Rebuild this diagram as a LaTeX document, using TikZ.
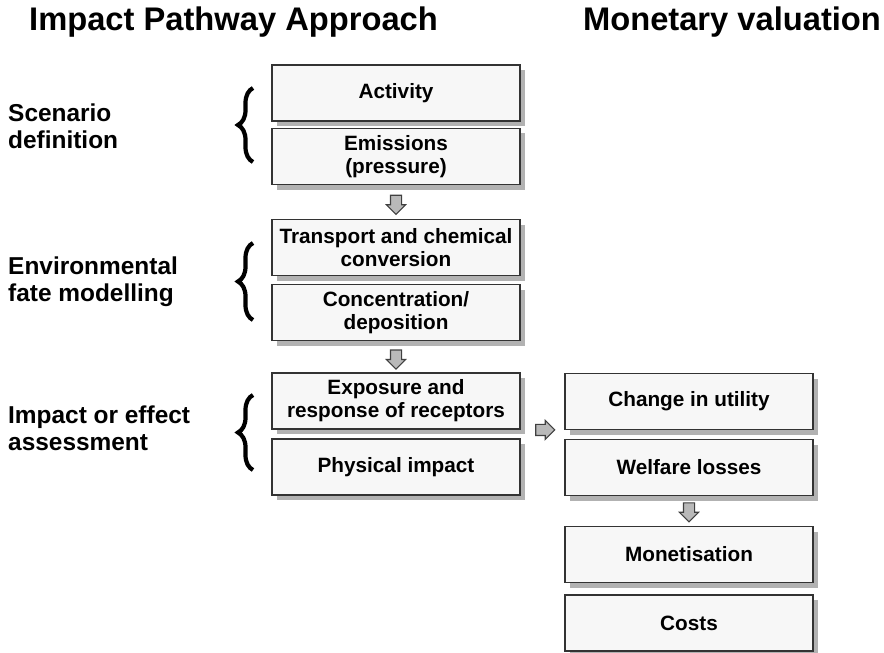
\documentclass[tikz,border=0pt]{standalone}
\usepackage{fontspec}
\setmainfont{Liberation Sans}
\usetikzlibrary{shapes.arrows,shadows,decorations.pathreplacing,calc}

\begin{document}
\begin{tikzpicture}[
    stage/.style={rectangle, draw=black!80, line width=0.8pt, fill=gray!6, minimum width=4.96cm, minimum height=1.12cm, align=center, font=\fontsize{11.8}{13}\selectfont\bfseries, drop shadow={shadow xshift=0.1cm, shadow yshift=-0.1cm, fill=gray!60, opacity=1}},
    flow/.style={single arrow, draw=black!75, line width=0.6pt, fill=gray!55, inner sep=0.1cm, single arrow head extend=0.08cm, minimum height=0.38cm},
    grp/.style={decorate, decoration={brace, amplitude=0.3cm}, line width=2.4pt},
    side/.style={anchor=west, align=left, font=\fontsize{13.9}{15.4}\selectfont\bfseries},
    head/.style={font=\fontsize{18.6}{20}\selectfont\bfseries}
]
\useasboundingbox (0,0) rectangle (17.68,13.04);

% Headings
\node[head, anchor=west] (ipa) at (0.46, 12.6) {Impact Pathway Approach};
\node[head] (mv) at (14.64, 12.6) {Monetary valuation};

% Pathway boxes
\node[stage] (act) at (7.92, 11.18) {Activity};
\node[stage] (emis) at (7.92, 9.91) {Emissions\\(pressure)};
\node[stage] (trans) at (7.92, 8.09) {Transport and chemical\\conversion};
\node[stage] (conc) at (7.92, 6.79) {Concentration/\\deposition};
\node[stage] (expo) at (7.92, 5.02) {Exposure and\\response of receptors};
\node[stage] (phys) at (7.92, 3.70) {Physical impact};

% Valuation boxes
\node[stage] (util) at (13.78, 5.01) {Change in utility};
\node[stage] (welf) at (13.78, 3.69) {Welfare losses};
\node[stage] (monet) at (13.78, 1.95) {Monetisation};
\node[stage] (cost) at (13.78, 0.58) {Costs};

% Block arrows
\node[flow, shape border rotate=270] (a1) at ($(emis.south)!0.5!(trans.north)$) {};
\node[flow, shape border rotate=270] (a2) at ($(conc.south)!0.5!(expo.north)$) {};
\node[flow] (a3) at ($(expo.south east)!0.5!(util.south west)$) {};
\node[flow, shape border rotate=270] (a4) at ($(welf.south)!0.45!(monet.north)$) {};

% Stage groups
\draw[grp] (5.06, 9.80) -- (5.06, 11.28);
\draw[grp] (5.06, 6.64) -- (5.06, 8.18);
\draw[grp] (5.06, 3.64) -- (5.06, 5.14);

\node[side] (scen) at (0.04, 10.51) {Scenario\\definition};
\node[side] (fate) at (0.04, 7.40) {Environmental\\fate modelling};
\node[side] (asse) at (0.04, 4.48) {Impact or effect\\assessment};

\end{tikzpicture}
\end{document}
